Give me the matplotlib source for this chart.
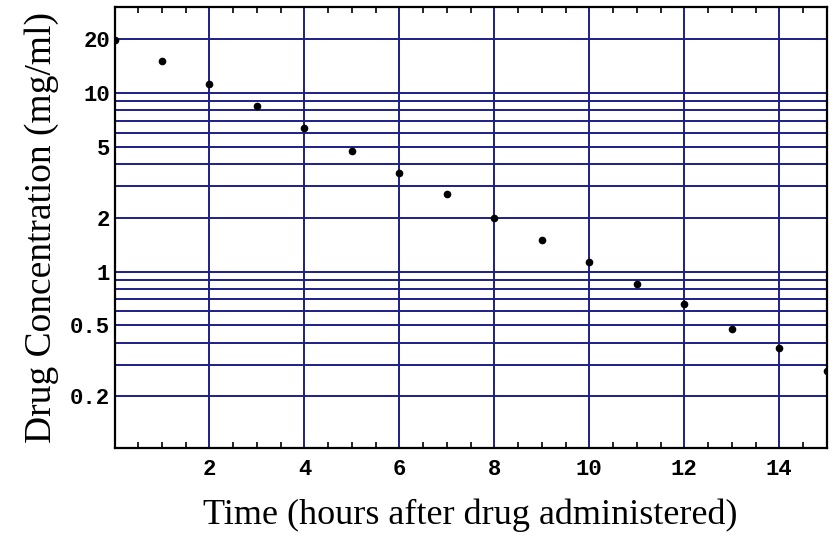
import matplotlib.pyplot as plt
from matplotlib.ticker import FixedLocator, MultipleLocator, NullFormatter


hours = [0, 1, 2, 3, 4, 5, 6, 7, 8, 9, 10, 11, 12, 13, 14, 15]
concentration = [19.8, 15.1, 11.3, 8.5, 6.35, 4.75, 3.58, 2.71,
                 1.99, 1.50, 1.13, 0.853, 0.659, 0.478, 0.373, 0.279]

y_ticks = [0.2, 0.5, 1, 2, 5, 10, 20]
y_tick_labels = ["0.2", "0.5", "1", "2", "5", "10", "20"]
x_ticks = [2, 4, 6, 8, 10, 12, 14]

# horizontal grid lines as in the original picture
h_grid = [0.2, 0.3, 0.4, 0.5, 0.6, 0.7, 0.8, 0.9, 1,
          2, 3, 4, 5, 6, 7, 8, 9, 10, 20]

GRID_COLOR = "#1d1f88"
TICK_FONT = "Liberation Mono"
LABEL_FONT = "Liberation Serif"


def main():
    fig = plt.figure(figsize=(8.33, 5.39), dpi=100)
    ax = fig.add_axes([0.1375, 0.169, 0.855, 0.8175])

    for v in h_grid:
        ax.axhline(v, color=GRID_COLOR, lw=1.4, zorder=1)
    for v in x_ticks:
        ax.axvline(v, color=GRID_COLOR, lw=1.4, zorder=1)

    ax.plot(hours, concentration, "o", color="black", ms=4.5, zorder=3,
            clip_on=True)

    ax.set_yscale("log")
    ax.set_xlim(0, 15)
    ax.set_ylim(0.103, 30.2)

    ax.yaxis.set_major_locator(FixedLocator(y_ticks))
    ax.set_yticklabels(y_tick_labels)
    ax.yaxis.set_minor_formatter(NullFormatter())
    ax.yaxis.set_minor_locator(FixedLocator([]))
    ax.set_xticks(x_ticks)
    ax.xaxis.set_minor_locator(MultipleLocator(0.5))

    ax.tick_params(axis="x", which="both", direction="in", top=True,
                   length=4, width=1.2, color="black")
    ax.tick_params(axis="x", which="major", length=0, pad=8)
    ax.tick_params(axis="y", which="both", length=0, pad=3)

    for lab in ax.get_xticklabels() + ax.get_yticklabels():
        lab.set_fontfamily(TICK_FONT)
        lab.set_fontsize(16)
        lab.set_fontweight("bold")

    for spine in ax.spines.values():
        spine.set_linewidth(1.6)
        spine.set_color("black")

    ax.set_xlabel("Time (hours after drug administered)",
                  fontfamily=LABEL_FONT, fontsize=26, labelpad=13)
    ax.set_ylabel("Drug Concentration (mg/ml)",
                  fontfamily=LABEL_FONT, fontsize=27, labelpad=8)

    fig.savefig("out.png", dpi=100)
    plt.close(fig)


if __name__ == "__main__":
    main()
